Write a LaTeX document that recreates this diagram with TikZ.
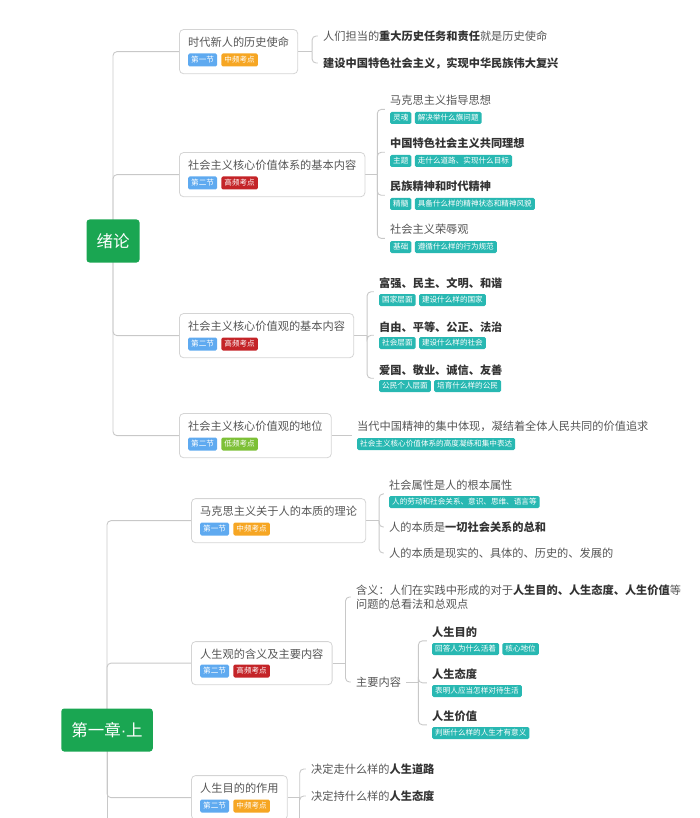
\documentclass[tikz,border=0pt]{standalone}
\usepackage{fontspec}
\setmainfont{Noto Sans CJK SC}
\newfontfamily\latinfont{Liberation Sans}
\usetikzlibrary{positioning,fit,backgrounds}

\definecolor{rootgreen}{RGB}{26,166,82}
\definecolor{tagblue}{RGB}{95,170,240}
\definecolor{tagorange}{RGB}{246,166,35}
\definecolor{tagred}{RGB}{196,36,40}
\definecolor{taglime}{RGB}{125,192,55}
\definecolor{tagteal}{RGB}{40,184,178}
\definecolor{linegray}{RGB}{200,200,200}
\definecolor{boxgray}{RGB}{212,212,212}
\definecolor{txtgray}{RGB}{85,85,85}
\definecolor{txtdark}{RGB}{51,51,51}

\newcommand{\bfdark}[1]{\textcolor{txtdark}{\textbf{#1}}}

\tikzset{
  root/.style={fill=rootgreen, text=white, rounded corners=3pt, minimum height=43pt, inner xsep=10pt, font=\fontsize{16.5}{18}\selectfont},
  sectitle/.style={anchor=west, inner sep=0pt, text=txtgray, font=\fontsize{11.2}{13}\selectfont},
  secbox/.style={draw=boxgray, line width=0.8pt, rounded corners=4pt, inner xsep=8.5pt, inner ysep=7pt},
  badge/.style={anchor=west, fill=#1, text=white, rounded corners=1.5pt, inner xsep=3pt, inner ysep=0pt, minimum height=13pt, font=\fontsize{7.6}{8}\selectfont},
  tealtag/.style={badge=tagteal, minimum height=12pt},
  leaf/.style={anchor=west, inner sep=0pt, text=txtgray, font=\fontsize{11.2}{14.5}\selectfont},
  grp/.style={inner xsep=5pt, inner ysep=0pt},
  link/.style={draw=linegray, line width=0.9pt, rounded corners=4pt},
}

\begin{document}
\begin{tikzpicture}[x=1pt, y=-1pt]
    \useasboundingbox (0,0) rectangle (700,818);
    \clip (0,0) rectangle (700,818);
    \coordinate (cutoff) at (0,830);

    % Roots
    \node[root] (intro) at (113,241) {绪论};
    \node[root] (ch1) at (107,730) {第一章{\latinfont ·}上};

    % Sections of 绪论
    \node[sectitle] (s1t) at (188,42) {时代新人的历史使命};
    \node[badge=tagblue] (s1a) at (188,60) {第一节};
    \node[badge=tagorange, right=4pt of s1a] (s1b) {中频考点};
    \node[secbox, fit=(s1t)(s1a)(s1b)] (s1) {};

    \node[sectitle] (s2t) at (188,165) {社会主义核心价值体系的基本内容};
    \node[badge=tagblue] (s2a) at (188,183) {第二节};
    \node[badge=tagred, right=4pt of s2a] (s2b) {高频考点};
    \node[secbox, fit=(s2t)(s2a)(s2b)] (s2) {};

    \node[sectitle] (s3t) at (188,326) {社会主义核心价值观的基本内容};
    \node[badge=tagblue] (s3a) at (188,344) {第二节};
    \node[badge=tagred, right=4pt of s3a] (s3b) {高频考点};
    \node[secbox, fit=(s3t)(s3a)(s3b)] (s3) {};

    \node[sectitle] (s4t) at (188,426) {社会主义核心价值观的地位};
    \node[badge=tagblue] (s4a) at (188,444) {第二节};
    \node[badge=taglime, right=4pt of s4a] (s4b) {低频考点};
    \node[secbox, fit=(s4t)(s4a)(s4b)] (s4) {};

    % Sections of 第一章
    \node[sectitle] (s5t) at (200,511) {马克思主义关于人的本质的理论};
    \node[badge=tagblue] (s5a) at (200,529) {第一节};
    \node[badge=tagorange, right=4pt of s5a] (s5b) {中频考点};
    \node[secbox, fit=(s5t)(s5a)(s5b)] (s5) {};

    \node[sectitle] (s6t) at (200,654) {人生观的含义及主要内容};
    \node[badge=tagblue] (s6a) at (200,671) {第二节};
    \node[badge=tagred, right=4pt of s6a] (s6b) {高频考点};
    \node[secbox, fit=(s6t)(s6a)(s6b)] (s6) {};

    \node[sectitle] (s7t) at (200,788) {人生目的的作用};
    \node[badge=tagblue] (s7a) at (200,806) {第二节};
    \node[badge=tagorange, right=4pt of s7a] (s7b) {中频考点};
    \node[secbox, fit=(s7t)(s7a)(s7b)] (s7) {};

    % Leaves of s1
    \node[leaf] (c11) at (323,36) {人们担当的\bfdark{重大历史任务和责任}就是历史使命};
    \node[grp, fit=(c11)] (g11) {};
    \node[leaf] (c12) at (323,63) {\bfdark{建设中国特色社会主义，实现中华民族伟大复兴}};
    \node[grp, fit=(c12)] (g12) {};

    % Leaves of s2
    \node[leaf] (c21) at (390,100) {马克思主义指导思想};
    \node[tealtag] (c21a) at (390,118) {灵魂};
    \node[tealtag, right=3pt of c21a] (c21b) {解决举什么旗问题};
    \node[grp, fit=(c21)(c21a)(c21b)] (g21) {};
    \node[leaf] (c22) at (390,143) {\bfdark{中国特色社会主义共同理想}};
    \node[tealtag] (c22a) at (390,161) {主题};
    \node[tealtag, right=3pt of c22a] (c22b) {走什么道路、实现什么目标};
    \node[grp, fit=(c22)(c22a)(c22b)] (g22) {};
    \node[leaf] (c23) at (390,186) {\bfdark{民族精神和时代精神}};
    \node[tealtag] (c23a) at (390,204) {精髓};
    \node[tealtag, right=3pt of c23a] (c23b) {具备什么样的精神状态和精神风貌};
    \node[grp, fit=(c23)(c23a)(c23b)] (g23) {};
    \node[leaf] (c24) at (390,229) {社会主义荣辱观};
    \node[tealtag] (c24a) at (390,247) {基础};
    \node[tealtag, right=3pt of c24a] (c24b) {遵循什么样的行为规范};
    \node[grp, fit=(c24)(c24a)(c24b)] (g24) {};

    % Leaves of s3
    \node[leaf] (c31) at (379,283) {\bfdark{富强、民主、文明、和谐}};
    \node[tealtag] (c31a) at (379,300) {国家层面};
    \node[tealtag, right=3pt of c31a] (c31b) {建设什么样的国家};
    \node[grp, fit=(c31)(c31a)(c31b)] (g31) {};
    \node[leaf] (c32) at (379,327) {\bfdark{自由、平等、公正、法治}};
    \node[tealtag] (c32a) at (379,343) {社会层面};
    \node[tealtag, right=3pt of c32a] (c32b) {建设什么样的社会};
    \node[grp, fit=(c32)(c32a)(c32b)] (g32) {};
    \node[leaf] (c33) at (379,370) {\bfdark{爱国、敬业、诚信、友善}};
    \node[tealtag] (c33a) at (379,386) {公民个人层面};
    \node[tealtag, right=3pt of c33a] (c33b) {培育什么样的公民};
    \node[grp, fit=(c33)(c33a)(c33b)] (g33) {};

    % Leaves of s4
    \node[leaf] (c41) at (357,426) {当代中国精神的集中体现，凝结着全体人民共同的价值追求};
    \node[tealtag] (c41a) at (357,444) {社会主义核心价值体系的高度凝练和集中表达};
    \node[grp, fit=(c41)(c41a)] (g41) {};

    % Leaves of s5
    \node[leaf] (c51) at (389,485) {社会属性是人的根本属性};
    \node[tealtag] (c51a) at (389,502) {人的劳动和社会关系、意识、思维、语言等};
    \node[grp, fit=(c51)(c51a)] (g51) {};
    \node[leaf] (c52) at (389,527) {人的本质是\bfdark{一切社会关系的总和}};
    \node[grp, fit=(c52)] (g52) {};
    \node[leaf] (c53) at (389,553) {人的本质是现实的、具体的、历史的、发展的};
    \node[grp, fit=(c53)] (g53) {};

    % Leaves of s6
    \node[leaf, align=left] (c61) at (356,597) {含义：人们在实践中形成的对于\bfdark{人生目的、人生态度、人生价值}等\\问题的总看法和总观点};
    \node[grp, fit=(c61)] (g61) {};
    \node[leaf] (c62) at (356,682) {主要内容};
    \node[grp, fit=(c62)] (g62) {};
    \node[leaf] (c63) at (432,632) {\bfdark{人生目的}};
    \node[tealtag] (c63a) at (432,649) {回答人为什么活着};
    \node[tealtag, right=3pt of c63a] (c63b) {核心地位};
    \node[grp, fit=(c63)(c63a)(c63b)] (g63) {};
    \node[leaf] (c64) at (432,674) {\bfdark{人生态度}};
    \node[tealtag] (c64a) at (432,691) {表明人应当怎样对待生活};
    \node[grp, fit=(c64)(c64a)] (g64) {};
    \node[leaf] (c65) at (432,716) {\bfdark{人生价值}};
    \node[tealtag] (c65a) at (432,733) {判断什么样的人生才有意义};
    \node[grp, fit=(c65)(c65a)] (g65) {};

    % Leaves of s7
    \node[leaf] (c71) at (311,769) {决定走什么样的\bfdark{人生道路}};
    \node[grp, fit=(c71)] (g71) {};
    \node[leaf] (c72) at (311,796) {决定持什么样的\bfdark{人生态度}};
    \node[grp, fit=(c72)] (g72) {};

    % Links
    \begin{pgfonlayer}{background}
        \draw[link] (intro.center) |- (s1.west);
        \draw[link] (intro.center) |- (s2.west);
        \draw[link] (intro.center) |- (s3.west);
        \draw[link] (intro.center) |- (s4.west);
        \draw[link] (ch1.center) |- (s5.west);
        \draw[link] (ch1.center) |- (s6.west);
        \draw[link] (ch1.center) |- (s7.west);
        \draw[link] (ch1.center) -- (ch1.center |- cutoff);

        \draw[link] (s1.east) -- ++(14,0) coordinate (s1j);
        \draw[link] (s1j) |- (g11.west);
        \draw[link] (s1j) |- (g12.west);

        \draw[link] (s2.east) -- ++(12,0) coordinate (s2j);
        \foreach \g in {g21,g22,g23,g24}
            \draw[link] (s2j) |- (\g.west);

        \draw[link] (s3.east) -- ++(13,0) coordinate (s3j);
        \foreach \g in {g31,g32,g33}
            \draw[link] (s3j) |- (\g.west);

        \draw[link] (s4.east) -- (s4.east -| g41.west);

        \draw[link] (s5.east) -- ++(13,0) coordinate (s5j);
        \foreach \g in {g51,g52,g53}
            \draw[link] (s5j) |- (\g.west);

        \draw[link] (s6.east) -- ++(13,0) coordinate (s6j);
        \draw[link] (s6j) |- (g61.west);
        \draw[link] (s6j) |- (g62.west);
        \draw[link] (g62.east) -- ++(12,0) coordinate (m6j);
        \foreach \g in {g63,g64,g65}
            \draw[link] (m6j) |- (\g.west);

        \draw[link] (s7.east) -- ++(12,0) coordinate (s7j);
        \draw[link] (s7j) |- (g71.west);
        \draw[link] (s7j) |- (g72.west);
        \draw[link] (s7j) -- (s7j |- cutoff);
    \end{pgfonlayer}
\end{tikzpicture}
\end{document}
